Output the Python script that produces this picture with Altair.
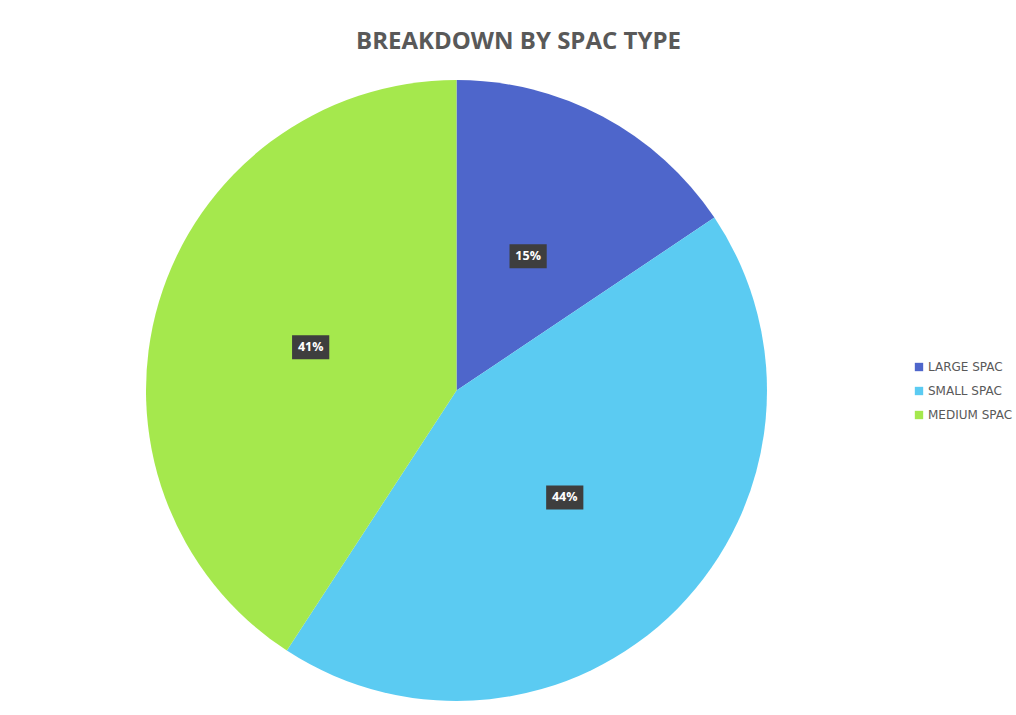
import altair as alt
import pandas as pd

categories = ["LARGE SPAC", "SMALL SPAC", "MEDIUM SPAC"]
shares = [15.6, 43.6, 40.8]
labels = ["15%", "44%", "41%"]
order = [1, 2, 3]
colors = ["#4E66CB", "#5BCBF2", "#A5E84D"]

df = pd.DataFrame({"type": categories, "value": shares, "label": labels, "order": order})

base = alt.Chart(df).transform_window(
    cum="sum(value)", sort=[alt.SortField("order")], frame=[None, 0]
).transform_joinaggregate(total="sum(value)").transform_calculate(
    mid="(datum.cum - datum.value/2)/datum.total*2*PI"
).transform_calculate(
    lx="0.49*sin(datum.mid)", ly="0.49*cos(datum.mid)"
)

pie = alt.Chart(df).mark_arc(outerRadius=310.5).encode(
    theta=alt.Theta("value:Q", stack=True),
    order=alt.Order("order:Q"),
    color=alt.Color(
        "type:N",
        scale=alt.Scale(domain=categories, range=colors),
        legend=alt.Legend(
            title=None, orient="none", legendX=767, legendY=281,
            symbolType="square", symbolSize=70, symbolStrokeWidth=0,
            labelFont="DejaVu Sans", labelFontSize=12, labelColor="#595959",
            rowPadding=12, symbolOffset=0, labelOffset=3,
        ),
    ),
)

xs = alt.X("lx:Q", scale=alt.Scale(domain=[-1, 1]), axis=None)
ys = alt.Y("ly:Q", scale=alt.Scale(domain=[-1, 1]), axis=None)

boxes = base.mark_point(
    shape="M-1.55,-1H1.55V1H-1.55Z", size=576, filled=True, opacity=1, color="#3E3E3E"
).encode(x=xs, y=ys)

texts = base.mark_text(
    font="Open Sans", fontSize=12.5, fontWeight="bold", color="white"
).encode(x=xs, y=ys, text="label:N")

chart = alt.layer(pie, boxes, texts).properties(
    width=621, height=621,
    padding={"left": 146, "top": 80, "right": 249, "bottom": 14},
    autosize=alt.AutoSizeParams(type="none"),
    background="white",
    title=alt.TitleParams(
        "BREAKDOWN BY SPAC TYPE", font="Open Sans", fontSize=24, fontWeight="bold",
        color="#595959", anchor="middle", dx=62, offset=26,
    ),
).configure_view(stroke=None)

chart.save("out.html", embed_options={"renderer": "svg", "actions": False})
